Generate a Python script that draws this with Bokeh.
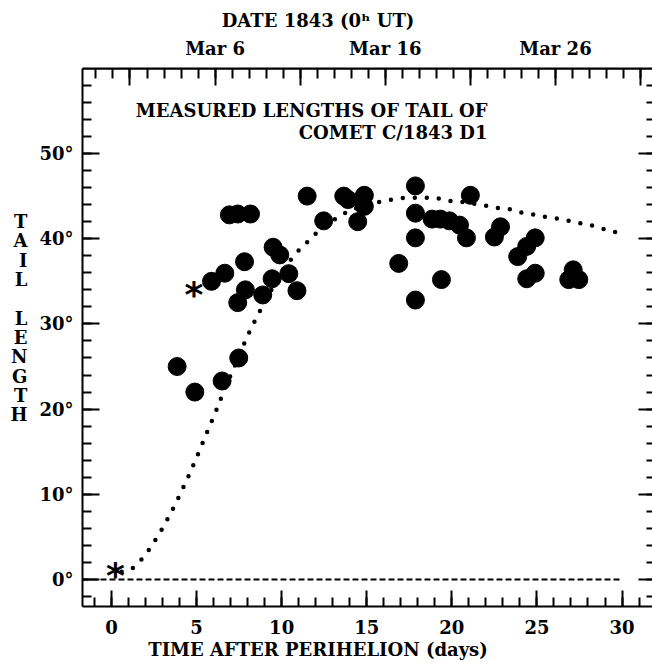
from bokeh.plotting import figure
from bokeh.models import LinearAxis, Range1d, FixedTicker, Label
from bokeh.embed import file_html
from bokeh.resources import INLINE
from bokeh.core.properties import value

# ---------------- data ----------------
obs_days = [3.86, 4.90, 6.50, 7.48, 7.42, 7.87, 8.89, 9.44, 10.42, 10.90,
            5.88, 6.66, 7.82, 6.93, 7.42, 8.17, 9.50, 9.89, 11.50, 13.65,
            13.90, 14.86, 14.86, 14.47, 12.47, 16.88, 17.86, 17.86, 17.86, 17.86,
            18.84, 19.33, 19.86, 20.45, 20.86, 19.39, 21.09, 22.86, 22.50, 24.90,
            24.40, 23.87, 24.90, 24.40, 27.13, 26.87, 27.46]
obs_len = [25.0, 22.0, 23.3, 26.0, 32.5, 34.0, 33.4, 35.3, 35.9, 33.9,
           35.0, 35.95, 37.3, 42.8, 42.9, 42.9, 39.0, 38.1, 45.0, 45.0,
           44.6, 45.1, 43.8, 42.0, 42.1, 37.1, 46.2, 43.0, 40.1, 32.8,
           42.3, 42.3, 42.1, 41.6, 40.1, 35.2, 45.1, 41.4, 40.2, 40.1,
           39.1, 37.9, 35.95, 35.3, 36.35, 35.2, 35.2]

star_days = [0.24, 4.84]
star_len = [0.97, 33.9]

model_days = [0.6, 1.2, 1.66, 2.04, 2.45, 3.0, 3.5, 4.0, 4.5, 5.0, 5.58, 6.11,
              6.64, 7.19, 7.71, 8.23, 8.8, 9.4, 10.0, 10.52, 11.03, 11.5, 12.0,
              12.7, 13.36, 14.0, 14.7, 15.32, 16.0, 16.69, 17.33, 18.0, 18.68,
              19.33, 20.0, 20.66, 21.3, 21.97, 22.66, 23.34, 23.99, 24.66, 25.34,
              25.99, 26.67, 27.32, 27.98, 28.65, 29.32, 30.0]
model_len = [0.9, 1.25, 2.1, 3.0, 4.2, 6.0, 7.85, 9.85, 12.0, 14.3, 17.1, 19.6,
             22.3, 24.8, 27.3, 29.6, 31.8, 34.0, 35.9, 37.5, 38.7, 39.6, 40.6,
             41.7, 42.6, 43.3, 43.8, 44.2, 44.4, 44.7, 44.8, 44.8, 44.8,
             44.7, 44.4, 44.3, 44.1, 43.9, 43.6, 43.5, 43.1, 42.9, 42.6,
             42.45, 42.2, 41.9, 41.7, 41.3, 40.9, 40.6]

zero_days = [-1.7, 30.0]
zero_len = [0.0, 0.0]

x_ticks = [0, 5, 10, 15, 20, 25, 30]
x_minor = list(range(-1, 33))
y_ticks = [0, 10, 20, 30, 40, 50]
y_tick_labels = ["0°", "10°", "20°", "30°", "40°", "50°"]
y_minor = list(range(-2, 61, 2))
date_label_ticks = [6, 16, 26]
date_tick_labels = ["Mar 6", "Mar 16", "Mar 26"]
date_long_ticks = [1, 11, 21, 31]
date_minor = list(range(-1, 33))
perihelion_march_day = -0.09   # 1843 Feb 27.91 expressed as a March day

title_lines = ["MEASURED LENGTHS OF TAIL OF", "COMET C/1843 D1"]
x_title = "TIME AFTER PERIHELION (days)"
top_title = "DATE 1843 (0ʰ UT)"
y_title = "T\nA\nI\nL\n\nL\nE\nN\nG\nT\nH\n\n"

# the original frame continues past the right edge of the picture, so the axis
# titles sit left of the visible frame centre: pad them on the right
PAD = "\u2003" * 5 + "\u2002"

X0, X1 = -1.70, 31.79
Y0, Y1 = -3.17, 59.98

FONT = "DejaVu Serif"
FS = "18px"

p = figure(width=652, height=663, x_range=Range1d(X0, X1), y_range=Range1d(Y0, Y1),
           output_backend="svg", toolbar_location=None,
           min_border_left=82, min_border_right=0, min_border_top=68, min_border_bottom=57)
p.grid.visible = False
p.outline_line_color = None
p.background_fill_color = "white"
p.border_fill_color = "white"

p.extra_x_ranges = {"date": Range1d(X0 + perihelion_march_day, X1 + perihelion_march_day)}


def style(ax):
    ax.axis_line_width = 2
    ax.axis_line_color = "black"
    ax.major_tick_line_width = 2
    ax.minor_tick_line_width = 2
    ax.major_tick_out = 0
    ax.minor_tick_out = 0
    ax.major_label_text_font = FONT
    ax.major_label_text_font_style = "bold"
    ax.major_label_text_font_size = FS
    ax.major_label_text_color = "black"
    ax.axis_label_text_font = FONT
    ax.axis_label_text_font_style = "bold"
    ax.axis_label_text_font_size = FS
    ax.axis_label_text_color = "black"


def text_label(x, y, txt, align="center"):
    return Label(x=x, y=y, text=txt, text_align=align, text_baseline="middle",
                 text_font=FONT, text_font_style="bold", text_font_size=FS,
                 text_color="black")


xb = p.xaxis[0]
style(xb)
xb.ticker = FixedTicker(ticks=x_ticks, minor_ticks=x_minor)
xb.major_tick_in = 16
xb.minor_tick_in = 9
xb.major_label_standoff = 13
xb.axis_label = x_title + PAD
xb.axis_label_standoff = 2

yl = p.yaxis[0]
style(yl)
yl.ticker = FixedTicker(ticks=y_ticks, minor_ticks=y_minor)
yl.major_label_overrides = dict(zip(y_ticks, y_tick_labels))
yl.major_tick_in = 17
yl.minor_tick_in = 9
yl.major_label_standoff = 9
yl.axis_label = y_title
yl.axis_label_orientation = "horizontal"
yl.axis_label_text_line_height = 0.92
yl.axis_label_standoff = 9

# top axis: dates (labelled ticks every 10 days, daily minor ticks)
xt = LinearAxis(x_range_name="date",
                ticker=FixedTicker(ticks=date_label_ticks, minor_ticks=date_minor),
                major_label_overrides=dict(zip(date_label_ticks, date_tick_labels)),
                axis_label=top_title + PAD)
style(xt)
xt.major_tick_in = 17
xt.minor_tick_in = 10
xt.major_label_standoff = 10
xt.axis_label_standoff = 4
p.add_layout(xt, "above")

# top axis: unlabelled long ticks (Mar 1, 11, 21, 31)
xt2 = LinearAxis(x_range_name="date", fixed_location=Y1,
                 ticker=FixedTicker(ticks=[], minor_ticks=date_long_ticks))
style(xt2)
xt2.minor_tick_in = 17
p.add_layout(xt2, "above")

# right side: mirrored ticks (the original frame edge lies just beyond the picture)
yr_major = LinearAxis(fixed_location=X1,
                      ticker=FixedTicker(ticks=[], minor_ticks=y_ticks))
style(yr_major)
yr_major.axis_line_color = None
yr_major.minor_tick_in = 14
p.add_layout(yr_major, "right")
yr_minor = LinearAxis(fixed_location=X1,
                      ticker=FixedTicker(ticks=[], minor_ticks=y_minor))
style(yr_minor)
yr_minor.axis_line_color = None
yr_minor.minor_tick_in = 6
p.add_layout(yr_minor, "right")

# model curve (dotted)
p.line(model_days, model_len, line_width=4.5, line_dash="0 12", line_cap="round",
       line_color="black")
# zero line
p.line(zero_days, zero_len, line_width=2, line_dash="6 3", line_color="black")
# observations
p.scatter(obs_days, obs_len, size=18, color="black")
# asterisks
p.text(star_days, star_len, text=["*"] * len(star_days), text_font=value("DejaVu Sans"),
       text_font_style="bold", text_font_size="36px", text_align="center",
       text_baseline="middle", y_offset=4, text_color="black")

p.add_layout(text_label(22.09, 55.10, title_lines[0], align="right"))
p.add_layout(text_label(22.09, 52.52, title_lines[1], align="right"))

open("out.html", "w").write(file_html(p, INLINE))
